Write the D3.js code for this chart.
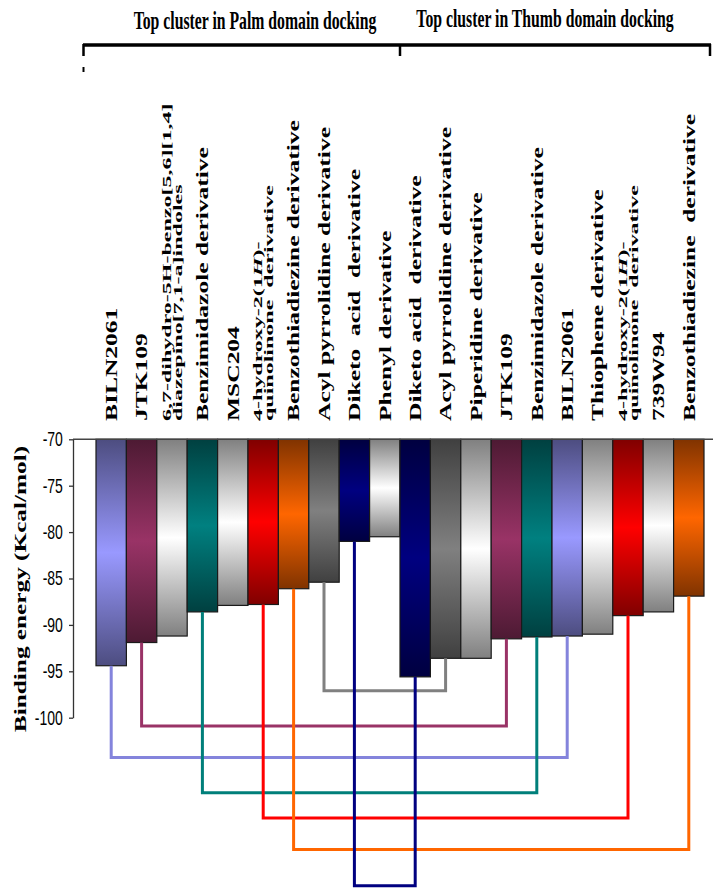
<!DOCTYPE html>
<html>
<head>
<meta charset="utf-8">
<script src="https://cdn.jsdelivr.net/npm/d3@7"></script>
<style>
  body { margin: 0; background: #fff; }
  text { white-space: pre; }
</style>
</head>
<body>
<div id="chart"></div>
<script>
// bar labels, "\n" splits a two-line label, *x* marks italic
var categories = [
  'BILN2061', 'JTK109', '6,7-dihydro-5H-benzo[5,6][1,4]\ndiazepino[7,1-a]indoles',
  'Benzimidazole derivative', 'MSC204', '4-hydroxy-2(1*H*)-\nquinolinone  derivative',
  'Benzothiadiezine derivative', 'Acyl pyrrolidine derivative', 'Diketo  acid  derivative',
  'Phenyl derivative',
  'Diketo acid  derivative', 'Acyl pyrrolidine derivative', 'Piperidine derivative',
  'JTK109', 'Benzimidazole derivative', 'BILN2061', 'Thiophene derivative',
  '4-hydroxy-2(1*H*)-\nquinolinone  derivative', '739W94', 'Benzothiadiezine  derivative'
];
var values = [-94.4, -91.9, -91.2, -88.6, -87.9, -87.8, -86.1, -85.4, -81.0, -80.5,
              -95.6, -93.6, -93.6, -91.5, -91.3, -91.2, -91.0, -89.0, -88.6, -86.9];
var barColors = ['#9999FF', '#993366', '#FFFFFF', '#008080', '#FFFFFF', '#FF0000', '#FF6600', '#808080', '#000080', '#FFFFFF',
                 '#000080', '#808080', '#FFFFFF', '#993366', '#008080', '#9999FF', '#FFFFFF', '#FF0000', '#FFFFFF', '#FF6600'];
var groupTitles = ['Top cluster in Palm domain docking', 'Top cluster in Thumb domain docking'];
var yTicks = [-70, -75, -80, -85, -90, -95, -100];
var yTitle = 'Binding energy (Kcal/mol)';

// same compound in both clusters: bar index pairs, connector depth (Kcal/mol units)
var linkFrom  = [7, 1, 0, 3, 5, 6, 8];
var linkTo    = [11, 13, 15, 14, 17, 19, 10];
var linkLevel = [-97.1, -100.9, -104.3, -108.1, -110.8, -114.2, -118.1];
var linkColors = ['#808080', '#993366', '#8484DC', '#007F7A', '#FF0000', '#FF6600', '#000080'];

var W = 713, H = 888;
var serif = '"Times New Roman", "Liberation Serif", serif';
var sans = 'Arial, "Liberation Sans", sans-serif';

var svg = d3.select('#chart').append('svg').attr('width', W).attr('height', H);
var defs = svg.append('defs');

var xScale = d3.scaleBand().domain(d3.range(categories.length)).range([96, 704]).padding(0);
var yScale = d3.scaleLinear().domain([-70, -100]).range([439.3, 717.7]);
var axisX = 73;

/******************** titles and brackets ********************/
var titleX = [255, 545], titleY = [29, 27];
groupTitles.forEach(function(t, i){
  svg.append('text')
    .attr('transform', 'translate(' + titleX[i] + ',' + titleY[i] + ') scale(0.63,1)')
    .attr('text-anchor', 'middle')
    .style('font-family', serif).style('font-weight', 'bold').style('font-size', '25px')
    .text(t);
});

var mid = xScale(10);
var br = svg.append('g').attr('stroke', '#000').attr('fill', 'none');
br.append('line').attr('x1', 83).attr('x2', 711).attr('y1', 45).attr('y2', 45).attr('stroke-width', 3.5);
[83.5, mid, 710].forEach(function(x){
  br.append('line').attr('x1', x).attr('x2', x).attr('y1', 44).attr('y2', 56).attr('stroke-width', 2.5);
});
br.append('line').attr('x1', 83.5).attr('x2', 83.5).attr('y1', 67).attr('y2', 72).attr('stroke-width', 2);

/******************** bar labels ********************/
function addTspans(sel, str){
  str.split('*').forEach(function(part, k){
    if(!part) return;
    sel.append('tspan').style('font-style', k % 2 ? 'italic' : 'normal').text(part);
  });
}

categories.forEach(function(c, i){
  var cx = xScale(i) + xScale.bandwidth() / 2;
  var lines = c.split('\n');
  if(lines.length == 1){
    var t = svg.append('text')
      .attr('transform', 'translate(' + (cx + 5.8) + ',421) rotate(-90) scale(1.5,1)')
      .style('font-family', serif).style('font-weight', 'bold').style('font-size', '17px');
    addTspans(t, lines[0]);
  } else {
    lines.forEach(function(l, j){
      var t = svg.append('text')
        .attr('transform', 'translate(' + (cx - 1.5 + j * 11.5) + ',421) rotate(-90) scale(1.92,1)')
        .style('font-family', serif).style('font-weight', 'bold').style('font-size', '12.5px');
      addTspans(t, l);
    });
  }
});

/******************** bars ********************/
barColors.forEach(function(c, i){
  var rgb = d3.rgb(c);
  var dark = d3.rgb(rgb.r * 0.5, rgb.g * 0.5, rgb.b * 0.5);
  var g = defs.append('linearGradient').attr('id', 'grad' + i)
    .attr('x1', 0).attr('y1', 0).attr('x2', 0).attr('y2', 1);
  g.append('stop').attr('offset', '0%').attr('stop-color', dark);
  g.append('stop').attr('offset', '50%').attr('stop-color', rgb);
  g.append('stop').attr('offset', '100%').attr('stop-color', dark);
});

svg.append('g').selectAll('rect')
  .data(values).enter().append('rect')
  .attr('x', function(d, i){ return xScale(i); })
  .attr('y', yScale(-70))
  .attr('width', xScale.bandwidth())
  .attr('height', function(d){ return yScale(d) - yScale(-70); })
  .attr('fill', function(d, i){ return 'url(#grad' + i + ')'; })
  .attr('stroke', '#1a1a1a').attr('stroke-width', 1.2);

/******************** connectors ********************/
var lineGen = d3.line();
linkFrom.forEach(function(a, k){
  var b = linkTo[k];
  var xa = xScale(a) + xScale.bandwidth() / 2;
  var xb = xScale(b) + xScale.bandwidth() / 2;
  var pts = [[xa, yScale(values[a])], [xa, yScale(linkLevel[k])], [xb, yScale(linkLevel[k])], [xb, yScale(values[b])]];
  svg.append('path').attr('d', lineGen(pts))
    .attr('fill', 'none').attr('stroke', linkColors[k]).attr('stroke-width', 3);
});

/******************** axes ********************/
svg.append('line').attr('x1', axisX).attr('x2', W).attr('y1', yScale(-70)).attr('y2', yScale(-70))
  .attr('stroke', '#444').attr('stroke-width', 1.5);

var yAxis = svg.append('g').attr('transform', 'translate(' + axisX + ',0)')
  .call(d3.axisLeft(yScale).tickValues(yTicks).tickSize(4).tickSizeOuter(0).tickFormat(d3.format('d')));
yAxis.select('.domain').attr('stroke', '#333').attr('stroke-width', 1.3);
yAxis.selectAll('.tick line').attr('stroke', '#333').attr('stroke-width', 1.3);
yAxis.selectAll('.tick text')
  .attr('x', -14.5).attr('transform', 'scale(0.7,1)')
  .style('font-family', sans).style('font-size', '20px').attr('fill', '#000');
yAxis.selectAll('.tick text').text(function(d){ return String(d); });

svg.append('text')
  .attr('transform', 'translate(26,589) rotate(-90) scale(1.58,1)')
  .attr('text-anchor', 'middle')
  .style('font-family', serif).style('font-weight', 'bold').style('font-size', '16px')
  .text(yTitle);
</script>
</body>
</html>
